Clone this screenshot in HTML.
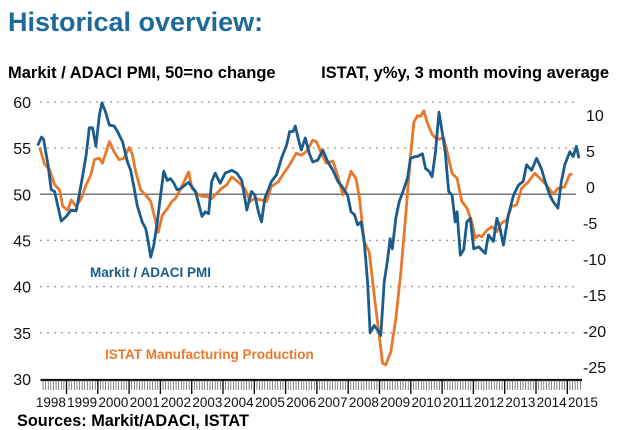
<!DOCTYPE html>
<html><head><meta charset="utf-8"><style>
body{margin:0;background:#fff;}
svg{display:block;font-family:"Liberation Sans",Arial,sans-serif;}
</style></head><body>
<svg id="chart" width="640" height="430" viewBox="0 0 640 430" xmlns="http://www.w3.org/2000/svg">
<text x="8" y="31" font-size="27" font-weight="bold" fill="#1e6a9c">Historical overview:</text>
<text x="8" y="78" font-size="16.5" font-weight="bold" fill="#000">Markit / ADACI PMI, 50=no change</text>
<text x="609" y="78" font-size="16.5" font-weight="bold" fill="#000" text-anchor="end">ISTAT, y%y, 3 month moving average</text>
<g id="grid"></g>
<g id="laxis"></g>
<g id="raxis"></g>
<g id="xaxis"></g>
<path id="istat" fill="none" stroke="#e8792c" stroke-width="2.8" stroke-linejoin="round"/>
<path id="pmi" fill="none" stroke="#1b5c8c" stroke-width="2.8" stroke-linejoin="round"/>
<text x="90" y="277" font-size="13.5" font-weight="bold" fill="#1b5c8c">Markit / ADACI PMI</text>
<text x="105" y="359" font-size="13.5" font-weight="bold" fill="#e8792c">ISTAT Manufacturing Production</text>
<text x="17" y="426" font-size="16.3" font-weight="bold" fill="#000">Sources: Markit/ADACI, ISTAT</text>
</svg>
<script>
const leftTicks=[60,55,50,45,40,35,30];
const rightTicks=[10,5,0,-5,-10,-15,-20,-25];
const years=[1998,1999,2000,2001,2002,2003,2004,2005,2006,2007,2008,2009,2010,2011,2012,2013,2014,2015];
const pmiDates=[1998.08,1998.20,1998.27,1998.41,1998.51,1998.62,1998.72,1998.83,1998.99,1999.15,1999.31,1999.41,1999.52,1999.63,1999.73,1999.83,1999.94,2000.05,2000.13,2000.24,2000.37,2000.52,2000.63,2000.79,2000.95,2001.05,2001.16,2001.26,2001.42,2001.53,2001.61,2001.69,2001.79,2001.90,2002.01,2002.11,2002.22,2002.32,2002.43,2002.53,2002.64,2002.90,2003.12,2003.33,2003.43,2003.54,2003.64,2003.75,2003.91,2004.07,2004.28,2004.44,2004.60,2004.76,2004.91,2005.02,2005.13,2005.23,2005.34,2005.55,2005.71,2005.87,2006.03,2006.13,2006.24,2006.31,2006.40,2006.50,2006.63,2006.77,2006.87,2007.03,2007.19,2007.35,2007.51,2007.67,2007.83,2007.98,2008.09,2008.20,2008.30,2008.41,2008.51,2008.62,2008.70,2008.83,2008.94,2009.04,2009.15,2009.25,2009.34,2009.41,2009.52,2009.63,2009.78,2009.89,2009.99,2010.15,2010.21,2010.37,2010.47,2010.58,2010.68,2010.79,2010.90,2011.00,2011.10,2011.21,2011.32,2011.42,2011.48,2011.58,2011.69,2011.79,2011.90,2012.01,2012.17,2012.38,2012.48,2012.64,2012.75,2012.85,2012.96,2013.12,2013.28,2013.44,2013.59,2013.70,2013.86,2014.02,2014.17,2014.33,2014.44,2014.55,2014.70,2014.81,2014.92,2015.08,2015.19,2015.29,2015.37];
const pmiValues=[55.3,56.2,55.9,53.2,50.5,50.3,48.8,47.1,47.6,48.3,48.2,50,52.1,54.3,57.2,57.2,55.2,58.6,59.9,59,57.5,57.4,56.8,55.7,53.5,52.6,50.7,48.8,47,46.3,44.9,43.2,44.5,47,50,52.5,51.5,51.7,51.2,50.5,50.6,51.3,50.3,47.6,48.1,47.9,51.4,52.3,51.2,52.3,52.6,52.3,51.5,48.3,50.3,49.9,48.1,47,49.6,51.4,52.1,53.9,55.3,56.8,56.8,57.4,56.1,54.8,56.1,54.3,53.5,53.7,54.8,53.5,52.6,51.4,50.7,49.9,48.1,47.8,46.7,47,44.9,40.5,35,35.8,35.3,34.7,40.5,42.7,45.2,44.1,47.4,49.2,50.6,51.7,53.9,54.1,54.1,54.4,52.8,52.5,51.9,54.6,58.9,56.8,54.6,50.3,49.9,47,48.1,43.4,44,47,47.4,44.1,44.3,43.6,45.6,44.9,47.4,46.3,44.5,47.8,49.9,51,51.4,53.2,52.6,53.9,52.8,51,49.9,49.2,48.5,51.4,53.2,54.6,54.1,55.2,53.9];
const istatDates=[1998.14,1998.30,1998.46,1998.62,1998.78,1998.88,1999.04,1999.15,1999.31,1999.47,1999.63,1999.78,1999.89,2000.05,2000.15,2000.37,2000.52,2000.68,2000.84,2001.00,2001.10,2001.21,2001.37,2001.53,2001.69,2001.85,2001.93,2002.06,2002.22,2002.37,2002.48,2002.59,2002.75,2002.90,2003.01,2003.17,2003.33,2003.49,2003.64,2003.80,2003.96,2004.12,2004.28,2004.49,2004.70,2004.86,2005.02,2005.23,2005.39,2005.55,2005.76,2005.97,2006.13,2006.34,2006.50,2006.66,2006.87,2006.98,2007.14,2007.30,2007.51,2007.67,2007.83,2007.93,2008.09,2008.25,2008.36,2008.51,2008.67,2008.83,2008.99,2009.10,2009.20,2009.36,2009.52,2009.68,2009.83,2009.99,2010.10,2010.21,2010.31,2010.42,2010.52,2010.68,2010.84,2011.05,2011.16,2011.32,2011.48,2011.63,2011.79,2011.95,2012.06,2012.17,2012.27,2012.43,2012.59,2012.75,2012.90,2013.06,2013.22,2013.38,2013.54,2013.75,2013.96,2014.17,2014.33,2014.55,2014.70,2014.91,2015.07,2015.16];
const istatValues=[5.5,3.2,2.4,0.3,-0.4,-2.7,-3.2,-1.8,-2.7,-1.6,0.3,1.7,3.8,4.0,3.3,6.3,4.9,3.8,4.0,5.5,4.6,2.1,-0.4,-1.1,-2.0,-4.8,-6.3,-3.9,-3.0,-2.0,-1.6,-0.7,0.7,2.1,-0.2,-0.9,-1.3,-1.3,-1.6,-0.9,-0.2,0.3,1.4,0.7,-0.2,-2.0,-1.6,-1.8,-2.0,0.1,0.7,2.1,3.1,4.7,4.4,4.9,6.5,6.3,4.7,3.3,3.6,1.5,-1.1,-0.2,2.2,1.2,-1.6,-7.6,-9.0,-15,-20.6,-24.5,-24.7,-22.9,-18.3,-11.9,-4.3,4.3,9.0,9.9,9.8,10.6,9.0,7.3,6.6,6.8,4.9,1.9,1.2,-2.0,-2.9,-4.8,-7.1,-6.7,-6.9,-6.0,-5.5,-6.2,-5.0,-4.6,-2.7,-2.5,-0.2,0.7,1.9,1.0,0.3,-1.0,-0.2,0.0,1.7,1.8];

const NS="http://www.w3.org/2000/svg";
function X(t){return 66.5+(t-1999)*31.3;}
function YL(v){return 102+(60-v)*9.23;}
function YR(v){return 187-v*7.2;}
function mk(tag,attrs,parent){const e=document.createElementNS(NS,tag);for(const k in attrs)e.setAttribute(k,attrs[k]);parent.appendChild(e);return e;}
const grid=document.getElementById('grid'),la=document.getElementById('laxis'),ra=document.getElementById('raxis'),xa=document.getElementById('xaxis');
leftTicks.forEach(v=>{
  if(v>30){
    const g=mk('line',{x1:40,x2:576,y1:YL(v),y2:YL(v),stroke:v===50?'#777':'#999','stroke-width':v===50?1.5:1.3,'stroke-dasharray':v===50?'none':'2 5'},grid);
    
    
  }
  const t=mk('text',{x:31,y:YL(v)+6,'font-size':16,'text-anchor':'end',fill:'#111'},la);
  t.textContent=v;
  
  
});
rightTicks.forEach(v=>{
  const t=mk('text',{x:v<0?583:586,y:YR(v)+6,'font-size':16,fill:'#111'},ra);
  t.textContent=v;
  
  
});
mk('line',{x1:40.5,x2:582,y1:380,y2:380,stroke:'#111','stroke-width':2.2},xa);
for(let m=2;m<12*18;m++){
  const t=1998+m/12; const x=X(t);
  if(x<41||x>582)continue;
  const major=m%12===0;
  mk('line',{x1:x,x2:x,y1:380,y2:major?394:390,stroke:major?'#111':'#555','stroke-width':major?1.4:0.7},xa);
}
years.forEach(y=>{
  const t=mk('text',{x:X(y+0.5),y:407,'font-size':13.5,'text-anchor':'middle',fill:'#111','textLength':30,'lengthAdjust':'spacingAndGlyphs'},xa);
  t.textContent=y;
  
  
});
function path(ds,vs,yf){return ds.map((d,i)=>(i?'L':'M')+X(d).toFixed(1)+' '+yf(vs[i]).toFixed(1)).join(' ');}
document.getElementById('pmi').setAttribute('d',path(pmiDates,pmiValues,YL));
document.getElementById('istat').setAttribute('d',path(istatDates,istatValues,YR));
</script>
</body></html>
